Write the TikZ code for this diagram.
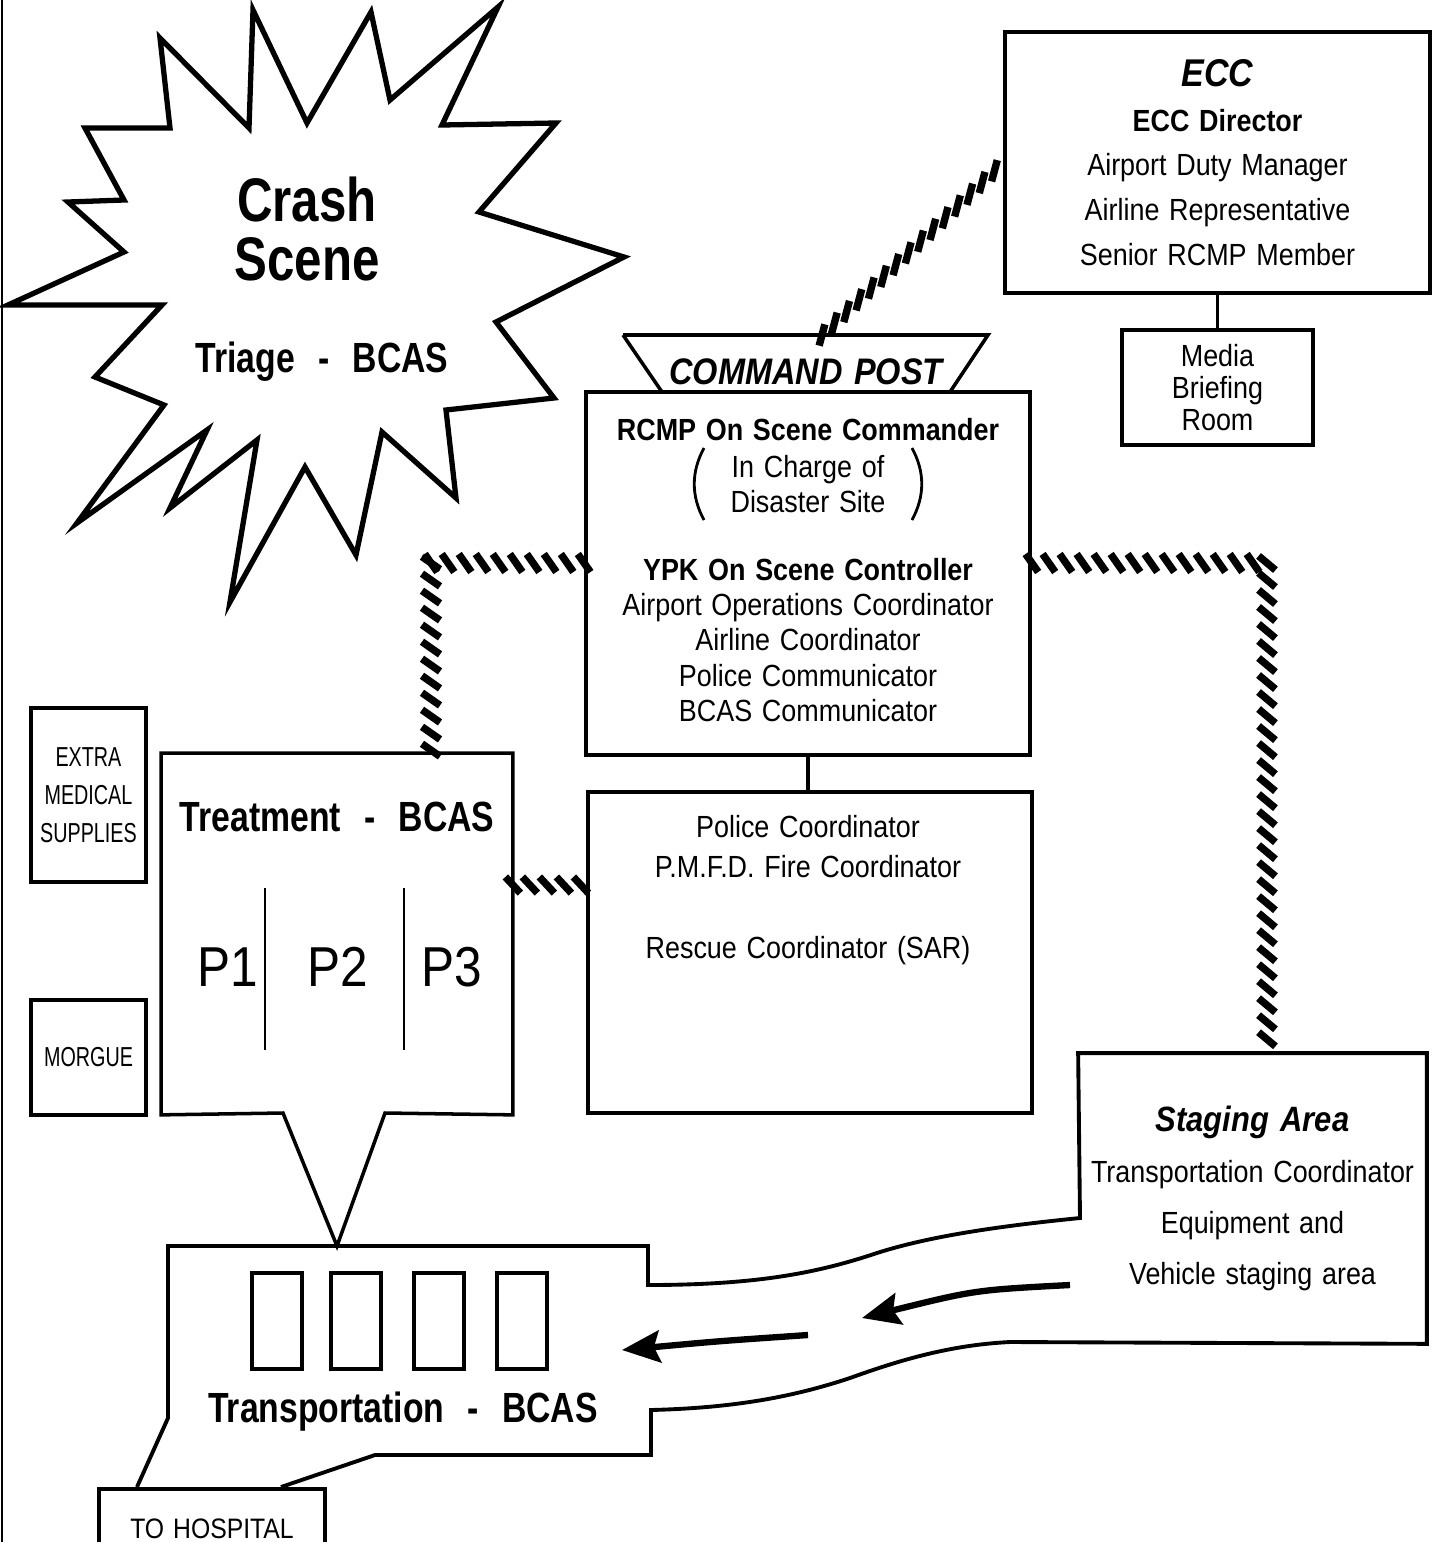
\documentclass[tikz,border=0pt]{standalone}
\usepackage{fontspec}
\setmainfont{Liberation Sans}[FakeStretch=0.88,WordSpace=1.3]
\newfontfamily\narrowfont{Liberation Sans}[FakeStretch=0.72]
\newfontfamily\labelfont{Liberation Sans}[FakeStretch=0.8]
\usetikzlibrary{arrows.meta,decorations.markings}

\begin{document}
\begin{tikzpicture}[x=0.01cm,y=-0.01cm,line width=1pt,
  box/.style={draw,line width=1pt,inner sep=0pt,align=center,font=\fontsize{8.7}{10}\selectfont},
  txt/.style={inner sep=0pt,align=center,font=\fontsize{8.7}{10}\selectfont},
  title/.style={inner sep=0pt,font=\labelfont\fontsize{12}{14}\selectfont\bfseries},
  pbox/.style={inner sep=0pt,font=\fontsize{16}{18}\selectfont},
  hatch/.style={postaction={decorate,decoration={markings,
    mark=between positions 0 and 1 step 0.17cm with {\pgftransformresetnontranslations
      \draw[line width=2.1pt,line cap=butt] (#1+180:0.11cm) -- (#1:0.11cm);}}}},
  flow/.style={line width=1.8pt,-{Stealth[length=0.38cm,width=0.32cm,inset=0.06cm]}}]
  \useasboundingbox (0,0) rectangle (1437,1542);
  \draw[line width=0.6pt] (2,0) -- (2,1542);
  % escena del accidente (estrella)
  \draw[line width=1.5pt,line join=miter] (253,10)--(307,123)--(371,12)--(390,100)--(498,7)--(442,125)--(556,123)--(479,212)
    --(624,257)--(496,322)--(554,398)--(446,410)--(456,498)--(382,432)--(356,555)--(305,467)--(230,602)--(257,440)
    --(170,508)--(207,430)--(77,523)--(164,405)--(95,377)--(162,305)--(8,305)--(124,252)--(68,202)--(124,200)
    --(85,128)--(170,128)--(160,38)--(249,128)--cycle;
  \node[align=center,inner sep=0pt,font=\labelfont\fontsize{17.5}{16.5}\selectfont\bfseries] (crash) at (307,229) {Crash\\Scene};
  \node[title] (triage) at (322,362) {Triage\hspace{0.55em}-\hspace{0.55em}BCAS};
  % ECC y sala de prensa
  \node[box,minimum width=4.25cm,minimum height=2.61cm,font=\fontsize{8.7}{12.7}\selectfont] (ecc) at (1217.5,162.5)
    {{\fontsize{11}{12.7}\selectfont\bfseries\itshape ECC}\\\textbf{ECC Director}\\Airport Duty Manager\\Airline Representative\\Senior RCMP Member};
  \node[box,minimum width=1.91cm,minimum height=1.15cm,font=\fontsize{8.7}{9.1}\selectfont] (media) at (1217.5,387.5) {Media\\Briefing\\Room};
  \draw (ecc.south) -- (media.north);
  % puesto de mando
  \node[box,minimum width=4.44cm,minimum height=3.63cm] (cp) at (808,573.5) {};
  \draw (623,335) -- (988,335) -- (950,392);
  \draw (623,335) -- (662,392);
  \coordinate (bannertop) at (822,335);
  \node[inner sep=0pt,font=\fontsize{10.5}{12}\selectfont\bfseries\itshape] (cptitle) at (806,372) {COMMAND~POST};
  \node[txt] (cphead) at (808,430) {\textbf{RCMP On Scene Commander}};
  \node[txt] (cpparen) at (808,484) {In Charge of\\Disaster Site};
  \draw[line width=0.8pt] ([shift={(-104,-36)}]cpparen.center) .. controls ([shift={(-117,-12)}]cpparen.center)
    and ([shift={(-117,12)}]cpparen.center) .. ([shift={(-104,36)}]cpparen.center);
  \draw[line width=0.8pt] ([shift={(104,-36)}]cpparen.center) .. controls ([shift={(117,-12)}]cpparen.center)
    and ([shift={(117,12)}]cpparen.center) .. ([shift={(104,36)}]cpparen.center);
  \node[txt] (cpstaff) at (808,640) {\textbf{YPK On Scene Controller}\\Airport Operations Coordinator\\Airline Coordinator\\Police Communicator\\BCAS Communicator};
  % coordinadores
  \node[box,minimum width=4.44cm,minimum height=3.21cm] (police) at (810,952.5) {};
  \node[txt,font=\fontsize{8.7}{11.4}\selectfont] (policetxt) at (808,890) {Police Coordinator\\P.M.F.D. Fire Coordinator\\[11.4pt]Rescue Coordinator (SAR)};
  \draw (cp.south) -- (cp.south |- police.north);
  % tratamiento
  \node[minimum width=3.48cm,minimum height=3.58cm,inner sep=0pt] (treat) at (337,934) {};
  \draw (treat.south west) -- (treat.north west) -- (treat.north east) -- (treat.south east) -- (385,1113) -- (337,1246) -- (283,1113) -- cycle;
  \node[title] (treattit) at (337,817) {Treatment\hspace{0.55em}-\hspace{0.55em}BCAS};
  \foreach \dx in {265,404} \draw[line width=0.6pt] (\dx,888) -- (\dx,1050);
  \node[pbox] (pone) at (228,967) {P1};
  \node[pbox] (ptwo) at (338,967) {P2};
  \node[pbox] (pthree) at (452,967) {P3};
  \node[box,minimum width=1.15cm,minimum height=1.74cm,font=\narrowfont\fontsize{7.8}{10.8}\selectfont] (extra) at (88.5,795) {EXTRA\\MEDICAL\\SUPPLIES};
  \node[box,minimum width=1.15cm,minimum height=1.15cm,font=\narrowfont\fontsize{7.8}{10.8}\selectfont] (morgue) at (88.5,1057.5) {MORGUE};
  % transporte, camino y zona de espera
  \node[minimum width=3.45cm,minimum height=2.87cm,inner sep=0pt,align=center,font=\fontsize{8.7}{14.5}\selectfont] (staging) at (1252.5,1198.5)
    {{\fontsize{10}{14.5}\selectfont\bfseries\itshape Staging Area}\\Transportation Coordinator\\Equipment and\\Vehicle staging area};
  \draw[line width=1.1pt] (281,1487) -- (375,1455) -- (651,1455) -- (651,1410) .. controls (730,1408) and (790,1398) .. (850,1378)
    .. controls (900,1360) and (950,1345) .. (1010,1342) -- (staging.south east) -- (staging.north east) -- (staging.north west)
    -- (1080,1218) .. controls (1000,1226) and (930,1236) .. (877,1253) .. controls (820,1272) and (760,1285) .. (648,1285)
    -- (648,1246) -- (168,1246) -- (168,1418) -- (137,1487);
  \foreach \vx in {252,331,414,497} \draw (\vx,1273) rectangle ++(50,96);
  \node[title] (transport) at (403,1412) {Transportation\hspace{0.55em}-\hspace{0.55em}BCAS};
  \node[box,anchor=north,minimum width=2.26cm,minimum height=0.8cm,font=\fontsize{8}{10}\selectfont] (hosp) at (212,1487) {TO HOSPITAL};
  \coordinate (aonetail) at (1070,1285); \coordinate (aonehead) at (862,1318);
  \draw[flow] (aonetail) .. controls (975,1290) .. (aonehead);
  \coordinate (atwotail) at (808,1335); \coordinate (atwohead) at (622,1350);
  \draw[flow] (atwotail) .. controls (720,1341) .. (atwohead);
  % enlaces de radio (rayados)
  \coordinate (lcorner) at (431,563);
  \coordinate (rcorner) at (1267,563);
  \coordinate (midlink) at (550,885);
  \path[hatch=75] (bannertop) -- (ecc.west);
  \path[hatch=-55] (cp.west |- lcorner) -- (lcorner);
  \path[hatch=-35] (lcorner) -- (lcorner |- treat.north);
  \path[hatch=-55] (cp.east |- rcorner) -- (rcorner);
  \path[hatch=-40] (rcorner) -- (rcorner |- staging.north);
  \path[hatch=-47] (treat.east |- midlink) -- (police.west |- midlink);
\end{tikzpicture}
\end{document}
